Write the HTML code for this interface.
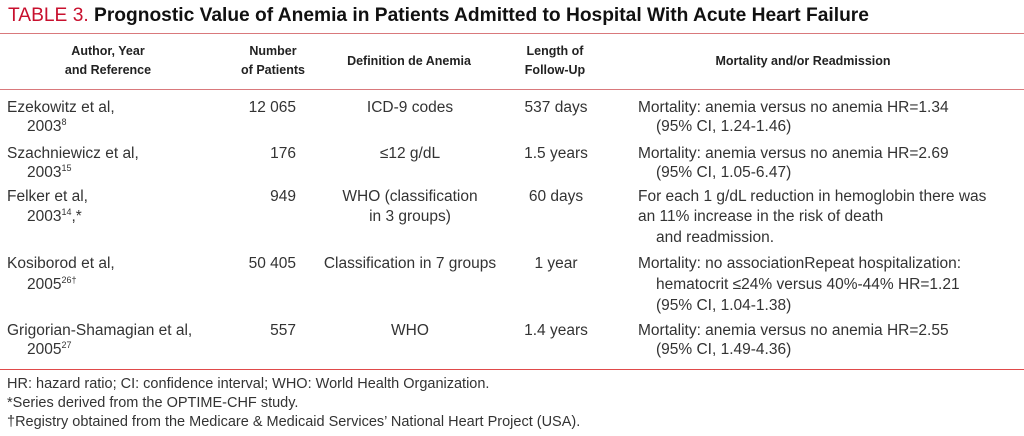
<!DOCTYPE html>
<html><head><meta charset="utf-8"><style>
body{margin:0;width:1024px;height:436px;background:#fff;position:relative;overflow:hidden;font-family:"Liberation Sans",Arial,sans-serif;color:#333}
.t{position:absolute;white-space:nowrap;font-size:15.5px;line-height:18px;transform:translateY(-9px)}
.c{transform:translate(-50%,-9px)}
.r{transform:translate(-100%,-9px)}
.h{font-weight:bold;font-size:12.5px;color:#222}
.rule{position:absolute;left:0;width:1024px;height:1px;background:#d9797c}
sup{font-size:9px;line-height:0}
.f{font-size:14.5px}
</style></head><body>
<div class="t" style="left:8px;top:16px;font-size:19.2px;font-weight:bold;color:#111"><span style="color:#c8102e;font-weight:normal">TABLE 3.</span> Prognostic Value of Anemia in Patients Admitted to Hospital With Acute Heart Failure</div>
<div class="rule" style="top:33px"></div>
<div class="t c h" style="left:108px;top:51px">Author, Year</div>
<div class="t c h" style="left:108px;top:70px">and Reference</div>
<div class="t c h" style="left:273px;top:51px">Number</div>
<div class="t c h" style="left:273px;top:70px">of Patients</div>
<div class="t c h" style="left:409px;top:61px">Definition de Anemia</div>
<div class="t c h" style="left:555px;top:51px">Length of</div>
<div class="t c h" style="left:555px;top:70px">Follow-Up</div>
<div class="t c h" style="left:803px;top:61px">Mortality and/or Readmission</div>
<div class="rule" style="top:89px"></div>

<div class="t" style="left:7px;top:108px">Ezekowitz et al,</div>
<div class="t" style="left:27px;top:127px">2003<sup>8</sup></div>
<div class="t r" style="left:296px;top:108px">12 065</div>
<div class="t c" style="left:410px;top:108px">ICD-9 codes</div>
<div class="t c" style="left:556px;top:108px">537 days</div>
<div class="t" style="left:638px;top:108px">Mortality: anemia versus no anemia HR=1.34</div>
<div class="t" style="left:656px;top:127px">(95% CI, 1.24-1.46)</div>

<div class="t" style="left:7px;top:154px">Szachniewicz et al,</div>
<div class="t" style="left:27px;top:173px">2003<sup>15</sup></div>
<div class="t r" style="left:296px;top:154px">176</div>
<div class="t c" style="left:410px;top:154px">≤12 g/dL</div>
<div class="t c" style="left:556px;top:154px">1.5 years</div>
<div class="t" style="left:638px;top:154px">Mortality: anemia versus no anemia HR=2.69</div>
<div class="t" style="left:656px;top:173px">(95% CI, 1.05-6.47)</div>

<div class="t" style="left:7px;top:197px">Felker et al,</div>
<div class="t" style="left:27px;top:217px">2003<sup>14</sup>,*</div>
<div class="t r" style="left:296px;top:197px">949</div>
<div class="t c" style="left:410px;top:197px">WHO (classification</div>
<div class="t c" style="left:410px;top:217px">in 3 groups)</div>
<div class="t c" style="left:556px;top:197px">60 days</div>
<div class="t" style="left:638px;top:197px">For each 1 g/dL reduction in hemoglobin there was</div>
<div class="t" style="left:638px;top:217px">an 11% increase in the risk of death</div>
<div class="t" style="left:656px;top:238px">and readmission.</div>

<div class="t" style="left:7px;top:264px">Kosiborod et al,</div>
<div class="t" style="left:27px;top:285px">2005<sup>26†</sup></div>
<div class="t r" style="left:296px;top:264px">50 405</div>
<div class="t c" style="left:410px;top:264px">Classification in 7 groups</div>
<div class="t c" style="left:556px;top:264px">1 year</div>
<div class="t" style="left:638px;top:264px">Mortality: no associationRepeat hospitalization:</div>
<div class="t" style="left:656px;top:285px">hematocrit ≤24% versus 40%-44% HR=1.21</div>
<div class="t" style="left:656px;top:306px">(95% CI, 1.04-1.38)</div>

<div class="t" style="left:7px;top:331px">Grigorian-Shamagian et al,</div>
<div class="t" style="left:27px;top:350px">2005<sup>27</sup></div>
<div class="t r" style="left:296px;top:331px">557</div>
<div class="t c" style="left:410px;top:331px">WHO</div>
<div class="t c" style="left:556px;top:331px">1.4 years</div>
<div class="t" style="left:638px;top:331px">Mortality: anemia versus no anemia HR=2.55</div>
<div class="t" style="left:656px;top:350px">(95% CI, 1.49-4.36)</div>

<div class="rule" style="top:369px;background:#e04a4a"></div>
<div class="t f" style="left:7px;top:384px">HR: hazard ratio; CI: confidence interval; WHO: World Health Organization.</div>
<div class="t f" style="left:7px;top:403px">*Series derived from the OPTIME-CHF study.</div>
<div class="t f" style="left:7px;top:422px">†Registry obtained from the Medicare &amp; Medicaid Services’ National Heart Project (USA).</div>
</body></html>
